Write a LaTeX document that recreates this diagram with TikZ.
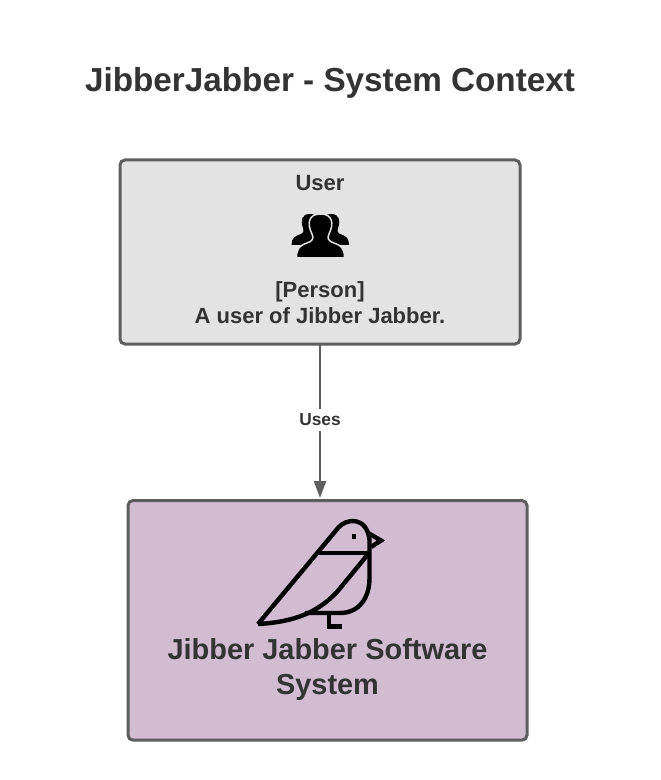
\documentclass[tikz,border=0pt]{standalone}
\usepackage{fontspec}
\setmainfont{Liberation Sans}
\usetikzlibrary{arrows.meta}
\definecolor{edgegrey}{HTML}{5E5E5E}
\definecolor{inkgrey}{HTML}{333333}
\definecolor{userfill}{HTML}{E3E3E3}
\definecolor{sysfill}{HTML}{D1BCD2}
\tikzset{
  x=0.75pt,y=-0.75pt,
  box/.style={draw=edgegrey,line width=2.25pt,rounded corners=3.75pt,inner sep=0pt,outer sep=0pt,anchor=north west},
  lbl/.style={text=inkgrey,font=\bfseries,inner sep=0pt,align=center},
  birdline/.style={draw=black,line width=3.3pt,line join=miter,line cap=butt},
  conn/.style={draw=edgegrey,line width=1.5pt,-{Triangle[length=12.5pt,width=9pt]}}
}
\begin{document}
\begin{tikzpicture}
\useasboundingbox (0,0) rectangle (660,780);
\fill[white] (0,0) rectangle (660,780);
\node[lbl,font=\fontsize{24.95}{30}\selectfont\bfseries] (title) at (330,83) {JibberJabber - System Context};
\node[box,fill=userfill,minimum width=300pt,minimum height=138pt] (user) at (120,160) {};
\node[box,fill=sysfill,minimum width=299.25pt,minimum height=179.75pt] (sys) at (128,500.5) {};
\node[lbl,font=\fontsize{16.5}{20}\selectfont\bfseries] (username) at (320,183.5) {User};
\node[lbl,font=\fontsize{16.5}{19.5}\selectfont\bfseries] (userdesc) at (320,302.5) {[Person]\\A user of Jibber Jabber.};
\node[lbl,font=\fontsize{21.7}{26.25}\selectfont\bfseries] (systext) at (327.5,670) {Jibber Jabber Software\\System};
\coordinate (arrowend) at (user.south |- sys.north);
\draw[conn,shorten >=2pt] (user.south) -- (arrowend) node[pos=0.485,fill=white,inner sep=4pt,text=inkgrey,font=\fontsize{13}{15}\selectfont\bfseries] (uses) {Uses};
% person icon
\fill[black] (291.5,245) .. controls (291.5,238) and (295,236) .. (301,234) .. controls (304,232.5) and (304,230) .. (303,228) .. controls (300,220) and (302,214) .. (310,214) .. controls (318,214) and (320,220) .. (317,228) -- (322,245) -- cycle;
\fill[black] (349,245) .. controls (349,238) and (346,236) .. (340,234) .. controls (337,232.5) and (337,230) .. (338,228) .. controls (341,220) and (339,214) .. (331,214) .. controls (323,214) and (321,220) .. (324,228) -- (319,245) -- cycle;
\fill[black,draw=userfill,line width=1.1pt,line join=round] (296.5,257.8) .. controls (296.5,248) and (300,245.5) .. (307,243) .. controls (313,241) and (314,238) .. (312,234) .. controls (307,224) and (308,214) .. (320.5,214) .. controls (333,214) and (334,224) .. (329,234) .. controls (327,238) and (328,241) .. (334,243) .. controls (341,245.5) and (344.5,248) .. (344.5,257.8) -- cycle;
% bird
\draw[birdline] (369.5,553) -- (369.5,578) .. controls (369.5,598) and (359,613) .. (340,613) -- (305,613);
\draw[birdline] (258,624) -- (338,528) .. controls (346,518) and (367,516) .. (369.5,540) -- (369.5,553);
\draw[birdline] (317,553) -- (369.5,553);
\draw[birdline] (369,553) -- (337,592) .. controls (318,612) and (295,622) .. (258,624);
\draw[birdline] (369,533.5) -- (381,540.5) -- (371,547);
\draw[birdline] (329,613) -- (329,626.5) -- (342,626.5);
\fill[black] (352,534) rectangle (356,539);
\end{tikzpicture}
\end{document}
